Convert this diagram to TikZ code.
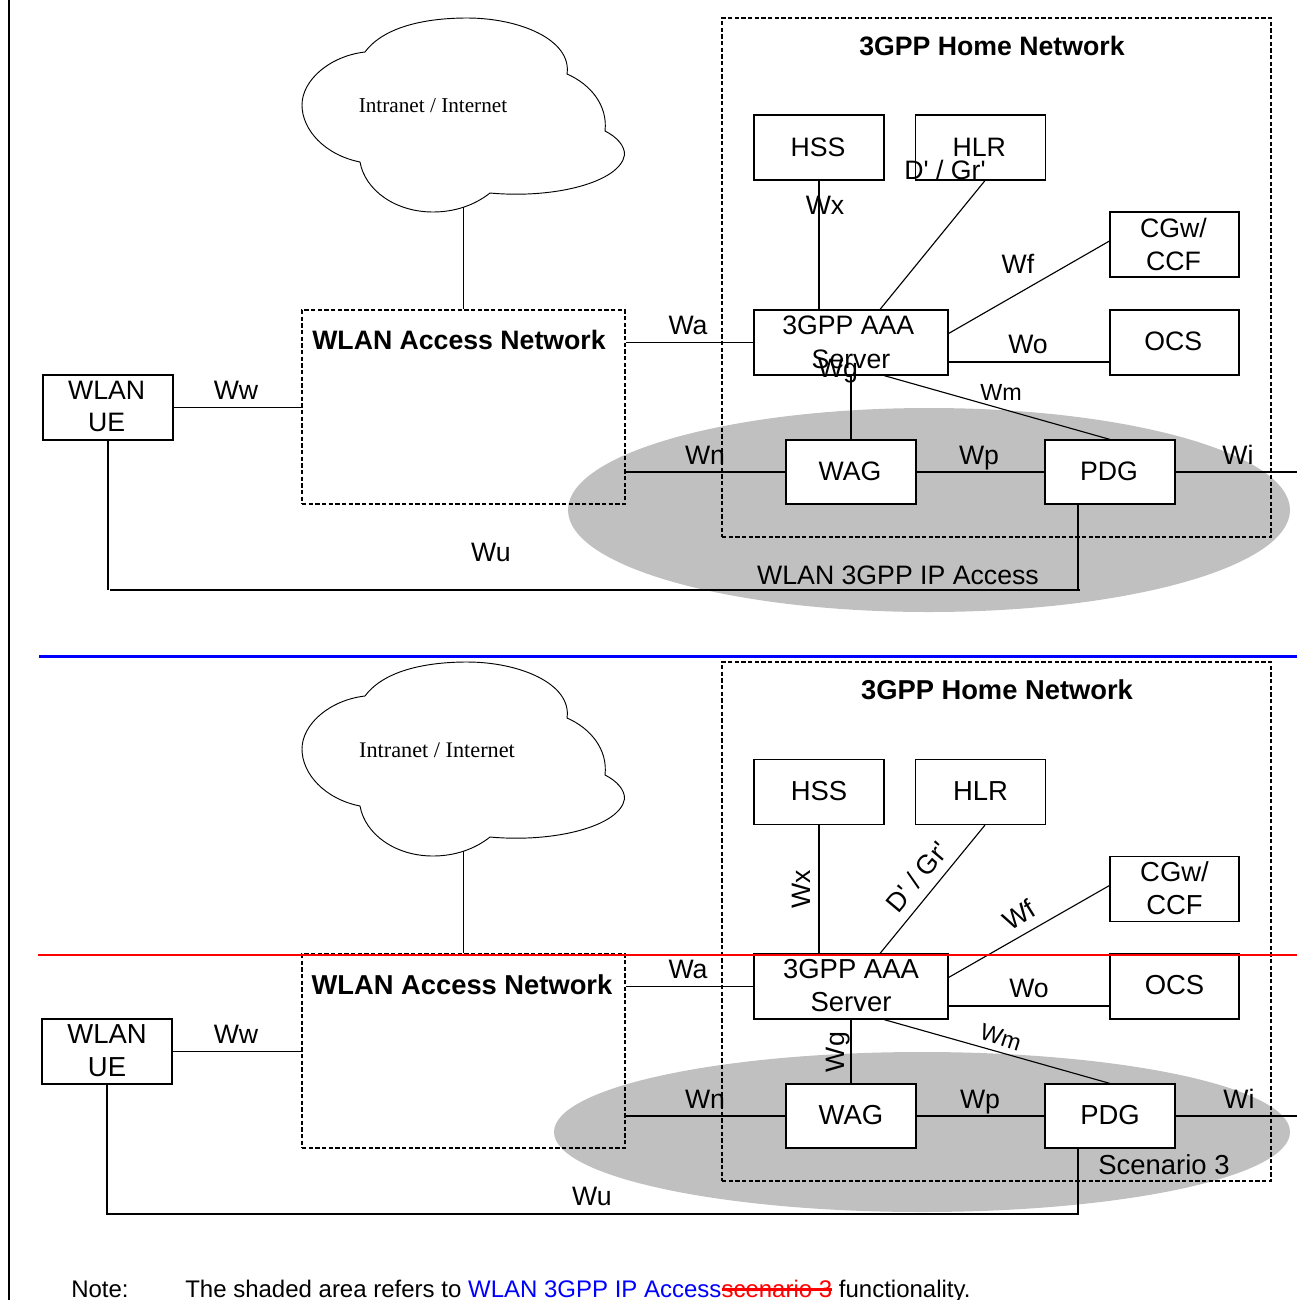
\documentclass[tikz,border=0pt]{standalone}
\usepackage{fontspec}
\usetikzlibrary{calc}
\setmainfont{Liberation Sans}
\newfontfamily\cloudfont{Liberation Serif}
\newfontfamily\plainsans{Liberation Sans}
\definecolor{shade}{HTML}{C0C0C0}
\newcommand{\strk}[1]{\setbox0\hbox{#1}\rlap{\rule[.27em]{\wd0}{.09em}}\box0}
\newcommand{\up}[1]{\raisebox{0.75pt}[\height][\depth]{#1}}
\newcommand{\cloudpath}{(365,52) .. controls (385,25) and (430,18) .. (467,18) .. controls (520,18) and (572,40) .. (567,74) .. controls (590,84) and (608,105) .. (605,131) .. controls (617,137) and (625,146) .. (624.5,155) .. controls (620,182) and (555,199) .. (490,193) .. controls (475,205) and (455,212) .. (433,212) .. controls (395,212) and (365,190) .. (360,162) .. controls (325,155) and (302,130) .. (302,105) .. controls (302,80) and (330,56) .. (365,52) -- cycle}
\tikzset{
  px/.style 2 args={minimum width=#1*0.75pt,minimum height=#2*0.75pt},
  box/.style={draw=black,fill=white,line width=0.85pt,inner sep=0pt,align=center,font=\fontsize{20}{24.5}\selectfont},
  boxb/.style={box,font=\fontsize{20.6}{24.5}\selectfont},
  dbox/.style={draw=black,dash pattern=on 3.2pt off 1.8pt,line width=0.85pt,inner sep=0pt},
  conn/.style={draw=black,line width=0.85pt},
  lab/.style={inner sep=0pt,text height=14pt,text depth=0pt,font=\fontsize{20}{24}\selectfont},
  labb/.style={lab,font=\fontsize{20.6}{24}\selectfont},
  smlab/.style={inner sep=0pt,text height=13pt,text depth=0pt,font=\fontsize{17.5}{21}\selectfont},
  head/.style={lab,font=\fontsize{20}{24}\selectfont\bfseries},
  headb/.style={lab,font=\fontsize{20.5}{24}\selectfont\bfseries},
  cloudtext/.style={inner sep=0pt,text height=11pt,text depth=0pt,font=\fontsize{15.9}{18}\selectfont\cloudfont},
  cloudtextb/.style={cloudtext,font=\fontsize{16.7}{18}\selectfont\cloudfont},
  cloudshape/.style={draw=black,fill=white,line width=0.7pt},
  shadeell/.style={fill=shade,draw=none},
}
\begin{document}
\begin{tikzpicture}[x=0.75pt,y=-0.75pt]
\useasboundingbox (0,0) rectangle (1297,1300);
% ---------- frame and rules
\coordinate (ltop) at (9,0); \coordinate (lbot) at (9,1300);
\draw[conn] (ltop) -- (lbot);
% ---------- upper diagram
\fill[shadeell] (929,510) ellipse [x radius=361,y radius=102];
\draw[cloudshape] \cloudpath;
\coordinate (cloudA) at (463.5,207);
\node[cloudtext] (intA) at (433,105) {Intranet / Internet};
\node[dbox,px={323}{194}] (anA) at (463.5,407) {};
\node[dbox,px={549}{519}] (homeA) at (996.5,277.5) {};
\node[box,px={130}{65}] (ueA) at (108,407.5) {\up{WLAN}\kern2pt\\\up{UE}\kern2pt};
\node[box,px={130}{65}] (hssA) at (819,147.5) {HSS\kern1.5pt};
\node[box,px={130}{65}] (hlrA) at (980.5,147.5) {HLR\kern2pt};
\node[box,px={129}{65}] (cgwA) at (1174.5,244.5) {CGw/\kern1.5pt\\CCF\kern1.5pt};
\node[box,px={194}{65}] (aaaA) at (851,342.5) {\up{3GPP AAA}\kern4pt\\Server};
\node[box,px={129}{65}] (ocsA) at (1174.5,342.5) {\up{OCS}\kern2pt};
\node[box,px={130}{64}] (wagA) at (851,472) {\up{WAG}\kern1.5pt};
\node[box,px={130}{64}] (pdgA) at (1110,472) {\up{PDG}\kern1.5pt};
\coordinate (iA) at (1297,472);
\coordinate (uA) at (108,590);
\coordinate (uB) at (1080,590);
\draw[conn] (cloudA) -- (cloudA |- anA.north);
\draw[conn] (hssA.south) -- (hssA.south |- aaaA.north);
\draw[conn] ($(hlrA.south)+(4.5,0)$) -- ($(aaaA.north)+(29,0)$);
\draw[conn] ($(aaaA.east)+(0,-9)$) -- ($(cgwA.west)+(0,-3.5)$);
\draw[conn] ($(aaaA.east)+(0,19.5)$) -- ($(ocsA.west)+(0,19.5)$);
\draw[conn] ($(aaaA.south)+(33,0)$) -- (pdgA.north);
\draw[conn] (aaaA.south) -- (wagA.north);
\draw[conn] (anA.east |- aaaA.west) -- (aaaA.west);
\draw[conn] (ueA.east) -- (ueA.east -| anA.west);
\draw[conn] (anA.east |- wagA.west) -- (wagA.west);
\draw[conn] (wagA.east) -- (pdgA.west);
\draw[conn] (pdgA.east) -- (iA);
\draw[conn] (ueA.south) -- (uA);
\draw[conn] ($(uA)+(2,0)$) -- (uB);
\draw[conn] ($(pdgA.south)+(-32,0)$) -- ($(uB)+(-2,0)$);
\node[head] (tA) at (992,46) {3GPP Home Network};
\node[head] (nA) at (459,340) {WLAN Access Network};
\node[lab] (wxA) at (825,205) {Wx};
\node[lab] (grA) at (945,170) {\plainsans D' / Gr'};
\node[lab] (wfA) at (1018,264) {Wf};
\node[lab] (waA) at (688,325) {Wa};
\node[lab] (woA) at (1028,344) {Wo};
\node[smlab] (wmA) at (1001,392) {Wm};
\node[lab] (wgA) at (838,368) {Wg};
\node[lab] (wwA) at (236,390) {Ww};
\node[lab] (wnA) at (705,455) {Wn};
\node[lab] (wpA) at (979,455) {Wp};
\node[lab] (wiA) at (1238,455) {Wi};
\node[lab] (wuA) at (491,552) {Wu};
\node[lab] (ipA) at (898,575) {WLAN 3GPP IP Access};
% ---------- separator
\coordinate (blA) at (39,656.5); \coordinate (blB) at (1297,656.5);
\draw[blue,line width=2.2pt] (blA) -- (blB);
% ---------- lower diagram
\fill[shadeell] (922,1132) ellipse [x radius=368,y radius=80];
\begin{scope}[shift={(0,644)}]
\draw[cloudshape] \cloudpath;
\end{scope}
\coordinate (cloudB) at (463.5,851);
\node[cloudtextb] (intB) at (437,750) {Intranet / Internet};
\node[dbox,px={323}{194}] (anB) at (463.5,1051) {};
\node[dbox,px={549}{519}] (homeB) at (996.5,921.5) {};
\node[boxb,px={130}{65}] (ueB) at (107,1051.5) {\up{WLAN}\\\up{UE}};
\node[boxb,px={130}{65}] (hssB) at (819,792) {\up{HSS}};
\node[boxb,px={130}{65}] (hlrB) at (980.5,792) {\up{HLR}};
\node[boxb,px={129}{65}] (cgwB) at (1174.5,889) {\up{CGw/}\\\up{CCF}};
\node[boxb,px={194}{65}] (aaaB) at (851,986.5) {\up{3GPP AAA}\\\up{Server}};
\node[boxb,px={129}{65}] (ocsB) at (1174.5,986.5) {\up{OCS}};
\node[boxb,px={130}{64}] (wagB) at (851,1116) {\up{WAG}};
\node[boxb,px={130}{64}] (pdgB) at (1110,1116) {\up{PDG}};
\coordinate (iB) at (1297,1116);
\coordinate (vA) at (107,1214);
\coordinate (vB) at (1078,1214);
\draw[conn] (cloudB) -- (cloudB |- anB.north);
\draw[conn] (hssB.south) -- (hssB.south |- aaaB.north);
\draw[conn] ($(hlrB.south)+(4.5,0)$) -- ($(aaaB.north)+(29,0)$);
\draw[conn] ($(aaaB.east)+(0,-9)$) -- ($(cgwB.west)+(0,-3.5)$);
\draw[conn] ($(aaaB.east)+(0,19.5)$) -- ($(ocsB.west)+(0,19.5)$);
\draw[conn] ($(aaaB.south)+(33,0)$) -- (pdgB.north);
\draw[conn] (aaaB.south) -- (wagB.north);
\draw[conn] (anB.east |- aaaB.west) -- (aaaB.west);
\draw[conn] (ueB.east) -- (ueB.east -| anB.west);
\draw[conn] (anB.east |- wagB.west) -- (wagB.west);
\draw[conn] (wagB.east) -- (pdgB.west);
\draw[conn] (pdgB.east) -- (iB);
\draw[conn] (ueB.south) -- (vA) -- (vB) -- ($(pdgB.south)+(-32,0)$);
\node[headb] (tB) at (997,690) {3GPP Home Network};
\node[headb] (nB) at (462,985) {WLAN Access Network};
\node[lab,rotate=90] (wxB) at (801,889) {Wx};
\node[lab,rotate=50] (grB) at (917,877) {\plainsans D' / Gr'};
\node[lab,rotate=32] (wfB) at (1019,915) {Wf};
\node[lab] (waB) at (688,969) {Wa};
\node[lab] (woB) at (1029,988) {Wo};
\node[smlab,rotate=-18] (wmB) at (1001,1037) {Wm};
\node[lab,rotate=90] (wgB) at (835,1052) {Wg};
\node[lab] (wwB) at (236,1034) {Ww};
\node[lab] (wnB) at (705,1099) {Wn};
\node[lab] (wpB) at (980,1099) {Wp};
\node[lab] (wiB) at (1239,1099) {Wi};
\node[lab] (wuB) at (592,1196) {Wu};
\node[labb] (scB) at (1164,1165) {Scenario 3};
\coordinate (rlA) at (38,955); \coordinate (rlB) at (1297,955);
\draw[red,line width=1pt] (rlA) -- (rlB);
% ---------- note
\node[anchor=base west,inner sep=0pt,font=\fontsize{18}{22}\selectfont] (noteh) at (71,1297) {Note:};
\node[anchor=base west,inner sep=0pt,font=\fontsize{18}{22}\selectfont] (notet) at (185,1297) {The shaded area refers to \textcolor{blue}{WLAN 3GPP IP Access}\textcolor{red}{\strk{scenario 3}} functionality.};
\end{tikzpicture}
\end{document}
